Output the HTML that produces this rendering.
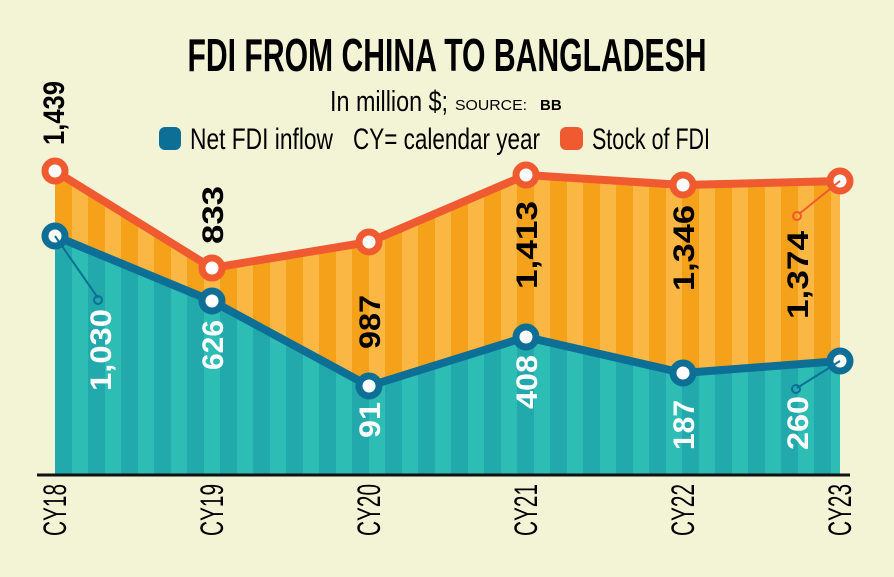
<!DOCTYPE html>
<html><head><meta charset="utf-8"><style>
html,body{margin:0;padding:0;background:#f3f4d6;}
svg{display:block;font-family:"Liberation Sans",sans-serif;}
</style></head><body>
<svg width="894" height="577" viewBox="0 0 894 577" xmlns="http://www.w3.org/2000/svg">
<defs>
<pattern id="po" x="55" y="0" width="33" height="600" patternUnits="userSpaceOnUse">
<rect x="0" y="0" width="17" height="600" fill="#f5a11a"/><rect x="17" y="0" width="16" height="600" fill="#fbb744"/>
</pattern>
<pattern id="pt" x="55" y="0" width="33" height="600" patternUnits="userSpaceOnUse">
<rect x="0" y="0" width="17" height="600" fill="#22a9ac"/><rect x="17" y="0" width="16" height="600" fill="#2ebdb4"/>
</pattern>
</defs>
<rect width="894" height="577" fill="#f3f4d6"/>
<text x="447" y="71" text-anchor="middle" font-size="46" font-weight="bold" textLength="519" lengthAdjust="spacingAndGlyphs">FDI FROM CHINA TO BANGLADESH</text>
<text x="330" y="111" font-size="29" textLength="118" lengthAdjust="spacingAndGlyphs">In million $;</text>
<text x="455" y="110" font-size="15" textLength="72" lengthAdjust="spacingAndGlyphs">SOURCE:</text>
<text x="540" y="110" font-size="15" font-weight="bold">BB</text>
<rect x="159" y="127" width="22" height="23" rx="6" fill="#0e6f96"/>
<text x="190" y="149" font-size="30" textLength="143" lengthAdjust="spacingAndGlyphs">Net FDI inflow</text>
<text x="353" y="149" font-size="30" textLength="187" lengthAdjust="spacingAndGlyphs">CY= calendar year</text>
<rect x="560" y="127" width="23" height="23" rx="6" fill="#ef5a30"/>
<text x="592" y="149" font-size="30" textLength="118" lengthAdjust="spacingAndGlyphs">Stock of FDI</text>

<polygon points="55,171 212,268 369,242 526,175 683,185 840,181 840,474 55,474" fill="url(#po)"/>
<polygon points="55,236 212,301 369,386 526,337 683,373 840,361 840,474 55,474" fill="url(#pt)"/>
<line x1="37" y1="475" x2="850" y2="475" stroke="#111" stroke-width="3"/>

<polyline points="55,171 212,268 369,242 526,175 683,185 840,181" fill="none" stroke="#ef5a30" stroke-width="8" stroke-linejoin="round"/>
<polyline points="55,236 212,301 369,386 526,337 683,373 840,361" fill="none" stroke="#0e6f96" stroke-width="8" stroke-linejoin="round"/>
<g fill="#fff" stroke="#ef5a30" stroke-width="7">
<circle cx="55" cy="171" r="10"/><circle cx="212" cy="268" r="10"/><circle cx="369" cy="242" r="10"/><circle cx="526" cy="175" r="10"/><circle cx="683" cy="185" r="10"/><circle cx="840" cy="181" r="10"/></g>
<g fill="#fff" stroke="#0e6f96" stroke-width="7">
<circle cx="55" cy="236" r="10"/><circle cx="212" cy="301" r="10"/><circle cx="369" cy="386" r="10"/><circle cx="526" cy="337" r="10"/><circle cx="683" cy="373" r="10"/><circle cx="840" cy="361" r="10"/></g>
<line x1="55" y1="236" x2="98" y2="298" stroke="#0e6f96" stroke-width="2"/><circle cx="98" cy="300" r="4" fill="none" stroke="#0e6f96" stroke-width="2"/>
<line x1="840" y1="361" x2="797" y2="388" stroke="#0e6f96" stroke-width="2"/><circle cx="796" cy="389" r="4" fill="none" stroke="#0e6f96" stroke-width="2"/>
<line x1="840" y1="181" x2="799" y2="214" stroke="#ef5a30" stroke-width="2"/><circle cx="797" cy="216" r="4" fill="none" stroke="#ef5a30" stroke-width="2"/>

<g font-size="30" font-weight="bold">
<text transform="translate(64,113) rotate(-90)" text-anchor="middle" textLength="64" lengthAdjust="spacingAndGlyphs">1,439</text>
<text transform="translate(223,215) rotate(-90)" text-anchor="middle" textLength="58" lengthAdjust="spacingAndGlyphs">833</text>
<text transform="translate(380,322) rotate(-90)" text-anchor="middle" textLength="54" lengthAdjust="spacingAndGlyphs">987</text>
<text transform="translate(537,245) rotate(-90)" text-anchor="middle" textLength="88" lengthAdjust="spacingAndGlyphs">1,413</text>
<text transform="translate(694,248) rotate(-90)" text-anchor="middle" textLength="86" lengthAdjust="spacingAndGlyphs">1,346</text>
<text transform="translate(808,275) rotate(-90)" text-anchor="middle" textLength="88" lengthAdjust="spacingAndGlyphs">1,374</text>
</g>
<g font-size="30" font-weight="bold" fill="#fff">
<text transform="translate(111,350) rotate(-90)" text-anchor="middle" textLength="82" lengthAdjust="spacingAndGlyphs">1,030</text>
<text transform="translate(223,345) rotate(-90)" text-anchor="middle" textLength="50" lengthAdjust="spacingAndGlyphs">626</text>
<text transform="translate(380,420) rotate(-90)" text-anchor="middle" textLength="36" lengthAdjust="spacingAndGlyphs">91</text>
<text transform="translate(537,382) rotate(-90)" text-anchor="middle" textLength="54" lengthAdjust="spacingAndGlyphs">408</text>
<text transform="translate(694,425) rotate(-90)" text-anchor="middle" textLength="50" lengthAdjust="spacingAndGlyphs">187</text>
<text transform="translate(808,423) rotate(-90)" text-anchor="middle" textLength="54" lengthAdjust="spacingAndGlyphs">260</text>
</g>
<g font-size="32">
<text transform="translate(66,510) rotate(-90)" text-anchor="middle" textLength="52" lengthAdjust="spacingAndGlyphs">CY18</text>
<text transform="translate(223,510) rotate(-90)" text-anchor="middle" textLength="52" lengthAdjust="spacingAndGlyphs">CY19</text>
<text transform="translate(380,510) rotate(-90)" text-anchor="middle" textLength="52" lengthAdjust="spacingAndGlyphs">CY20</text>
<text transform="translate(537,510) rotate(-90)" text-anchor="middle" textLength="52" lengthAdjust="spacingAndGlyphs">CY21</text>
<text transform="translate(694,510) rotate(-90)" text-anchor="middle" textLength="52" lengthAdjust="spacingAndGlyphs">CY22</text>
<text transform="translate(851,510) rotate(-90)" text-anchor="middle" textLength="52" lengthAdjust="spacingAndGlyphs">CY23</text>
</g>
</svg>
</body></html>
